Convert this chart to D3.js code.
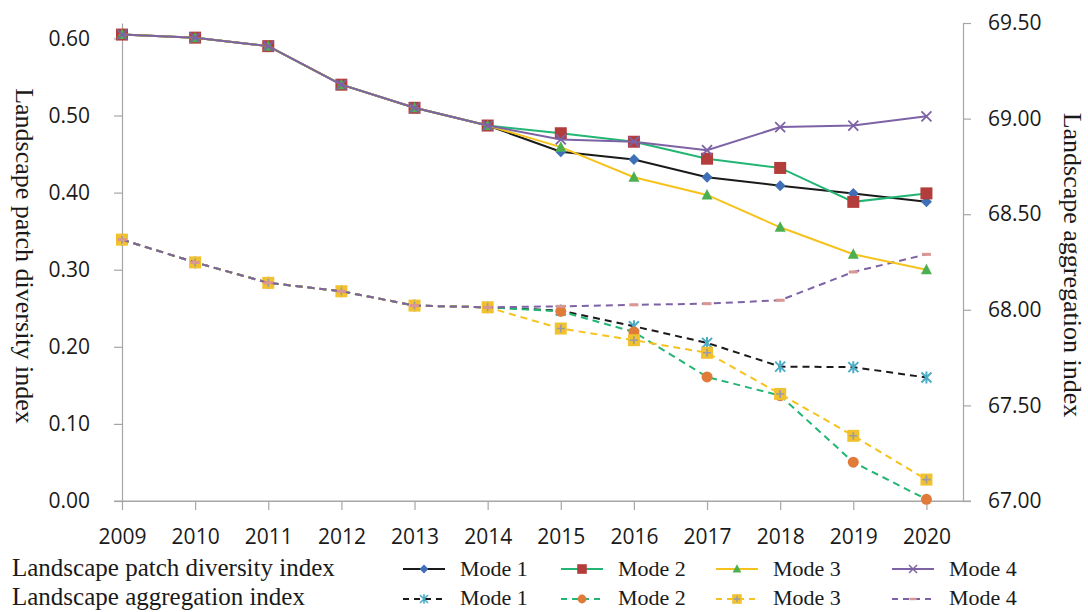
<!DOCTYPE html>
<html>
<head>
<meta charset="utf-8">
<script src="https://cdn.jsdelivr.net/npm/d3@7"></script>
<style>
  html, body { margin: 0; padding: 0; background: #fff; }
  svg { display: block; }
</style>
</head>
<body>
<svg id="chart" width="1088" height="612"></svg>
<script>
// Years on the x axis
const years = [2009, 2010, 2011, 2012, 2013, 2014, 2015, 2016, 2017, 2018, 2019, 2020];

// Landscape patch diversity index (left axis)
const patchMode1 = [0.605, 0.601, 0.590, 0.540, 0.510, 0.487, 0.453, 0.443, 0.420, 0.409, 0.399, 0.388];
const patchMode2 = [0.605, 0.601, 0.590, 0.540, 0.510, 0.487, 0.477, 0.466, 0.444, 0.432, 0.388, 0.399];
const patchMode3 = [0.605, 0.601, 0.590, 0.540, 0.510, 0.487, 0.459, 0.420, 0.397, 0.355, 0.320, 0.300];
const patchMode4 = [0.605, 0.601, 0.590, 0.540, 0.510, 0.487, 0.469, 0.466, 0.455, 0.485, 0.487, 0.499];

// Landscape aggregation index (right axis)
const aggMode1 = [68.367, 68.248, 68.141, 68.097, 68.022, 68.013, 67.996, 67.914, 67.827, 67.703, 67.700, 67.646];
const aggMode2 = [68.367, 68.248, 68.141, 68.097, 68.022, 68.013, 67.992, 67.884, 67.649, 67.551, 67.203, 67.009];
const aggMode3 = [68.367, 68.248, 68.141, 68.097, 68.022, 68.013, 67.902, 67.841, 67.775, 67.560, 67.341, 67.112];
const aggMode4 = [68.367, 68.248, 68.141, 68.097, 68.022, 68.013, 68.018, 68.026, 68.032, 68.050, 68.198, 68.290];

// Tick values
const leftTicks = [0.0, 0.1, 0.2, 0.3, 0.4, 0.5, 0.6];
const rightTicks = [67.0, 67.5, 68.0, 68.5, 69.0, 69.5];
const modeNames = ["Mode 1", "Mode 2", "Mode 3", "Mode 4"];
const rowLabels = ["Landscape patch diversity index", "Landscape aggregation index"];

const svg = d3.select("#chart");
const tickFont = "'Open Sans', 'Noto Sans', sans-serif";
const serifFont = "'Liberation Serif', 'Times New Roman', serif";
const axisColor = "#a6a6a6";

const x = d3.scaleLinear().domain([2009, 2020.5]).range([122, 963]);
const yL = d3.scaleLinear().domain([0, 0.62]).range([501, 23]);
const yR = d3.scaleLinear().domain([67, 69.5]).range([501, 23]);

// Axes
const gx = svg.append("g").attr("transform", "translate(0,501)")
  .call(d3.axisBottom(x).tickValues(years).tickFormat(d3.format("d")).tickSize(9).tickPadding(19).tickSizeOuter(0));
const gl = svg.append("g").attr("transform", "translate(122,0)")
  .call(d3.axisLeft(yL).tickValues(leftTicks).tickFormat(d3.format(".2f")).tickSize(8).tickPadding(24).tickSizeOuter(0));
const gr = svg.append("g").attr("transform", "translate(963,0)")
  .call(d3.axisRight(yR).tickValues(rightTicks).tickFormat(d3.format(".2f")).tickSize(8).tickPadding(17).tickSizeOuter(0));

[gx, gl, gr].forEach(g => {
  g.select(".domain").attr("stroke", axisColor).attr("stroke-width", 1.2);
  g.selectAll(".tick line").attr("stroke", axisColor).attr("stroke-width", 1.2);
  g.selectAll(".tick text").attr("fill", "#1a1a1a").style("font-family", tickFont).style("font-size", "21px");
});
// extend the baseline to meet the outer ticks
svg.append("line").attr("x1", 114).attr("x2", 971).attr("y1", 501).attr("y2", 501)
  .attr("stroke", axisColor).attr("stroke-width", 1.2);

// Axis titles
svg.append("text").attr("transform", "translate(16,256) rotate(90)")
  .attr("text-anchor", "middle").style("font-family", serifFont).style("font-size", "26px")
  .attr("fill", "#1a1a1a").text("Landscape patch diversity index");
svg.append("text").attr("transform", "translate(1064,265) rotate(90)")
  .attr("text-anchor", "middle").style("font-family", serifFont).style("font-size", "26px")
  .attr("fill", "#1a1a1a").text("Landscape aggregation index");

// Marker painters
const markers = {
  diamond: (g, c) => g.append("path").attr("d", "M0,-5.5L5.5,0L0,5.5L-5.5,0Z").attr("fill", c),
  square: (g, c) => g.append("rect").attr("x", -6).attr("y", -6).attr("width", 12).attr("height", 12).attr("fill", c),
  triangle: (g, c) => g.append("path").attr("d", "M0,-6L5.5,4.5L-5.5,4.5Z").attr("fill", c),
  cross: (g, c) => g.append("path").attr("d", "M-5,-5L5,5M-5,5L5,-5").attr("stroke", c).attr("stroke-width", 1.8).attr("fill", "none"),
  asterisk: (g, c) => g.append("path").attr("d", "M-5,-5L5,5M-5,5L5,-5M0,-6L0,6").attr("stroke", c).attr("stroke-width", 2).attr("fill", "none"),
  circle: (g, c) => g.append("circle").attr("r", 5.5).attr("fill", c),
  plusSquare: (g, c) => {
    g.append("rect").attr("x", -6).attr("y", -6).attr("width", 12).attr("height", 12).attr("fill", c);
    g.append("path").attr("d", "M-4,0L4,0M0,-4L0,4").attr("stroke", "#9a9aa6").attr("stroke-width", 1.6);
  },
  dash: (g, c) => g.append("rect").attr("x", -4.5).attr("y", -1.5).attr("width", 9).attr("height", 3).attr("fill", c)
};

const patchSeries = [
  { name: modeNames[0], values: patchMode1, line: "#1a1a1a", marker: "diamond", mColor: "#3f6fb6" },
  { name: modeNames[1], values: patchMode2, line: "#22b573", marker: "square", mColor: "#b23d3b" },
  { name: modeNames[2], values: patchMode3, line: "#f6c21c", marker: "triangle", mColor: "#4caf50" },
  { name: modeNames[3], values: patchMode4, line: "#7d62a6", marker: "cross", mColor: "#7d62a6" }
];
const aggSeries = [
  { name: modeNames[0], values: aggMode1, line: "#1a1a1a", marker: "asterisk", mColor: "#4bacc6" },
  { name: modeNames[1], values: aggMode2, line: "#22b573", marker: "circle", mColor: "#e07b39" },
  { name: modeNames[2], values: aggMode3, line: "#f6c21c", marker: "plusSquare", mColor: "#f2c12e" },
  { name: modeNames[3], values: aggMode4, line: "#7d62a6", marker: "dash", mColor: "#d99694" }
];

function drawSeries(list, yScale, dashed) {
  const line = d3.line().x((d, i) => x(years[i])).y(d => yScale(d));
  list.forEach(s => {
    const g = svg.append("g");
    g.append("path").attr("d", line(s.values)).attr("fill", "none")
      .attr("stroke", s.line).attr("stroke-width", 2)
      .attr("stroke-dasharray", dashed ? "7,5" : null);
    s.values.forEach((v, i) => {
      const mg = g.append("g").attr("transform", `translate(${x(years[i])},${yScale(v)})`);
      markers[s.marker](mg, s.mColor);
    });
  });
}

drawSeries(aggSeries, yR, true);
drawSeries(patchSeries, yL, false);

// Legend
const legendRows = [
  { label: rowLabels[0], series: patchSeries, dashed: false, y: 569, base: 576 },
  { label: rowLabels[1], series: aggSeries, dashed: true, y: 599, base: 605 }
];
const legendX = [403, 561, 716, 892];
legendRows.forEach(row => {
  svg.append("text").attr("x", 12).attr("y", row.base)
    .style("font-family", serifFont).style("font-size", "25px").attr("fill", "#1a1a1a").text(row.label);
  row.series.forEach((s, i) => {
    const lx = legendX[i];
    svg.append("line").attr("x1", lx).attr("x2", lx + 42).attr("y1", row.y).attr("y2", row.y)
      .attr("stroke", s.line).attr("stroke-width", 2)
      .attr("stroke-dasharray", row.dashed ? "6,5" : null);
    const mg = svg.append("g").attr("transform", `translate(${lx + 21},${row.y}) scale(0.8)`);
    markers[s.marker](mg, s.mColor);
    svg.append("text").attr("x", lx + 57).attr("y", row.base)
      .style("font-family", serifFont).style("font-size", "22px").attr("fill", "#1a1a1a").text(s.name);
  });
});
</script>
</body>
</html>
